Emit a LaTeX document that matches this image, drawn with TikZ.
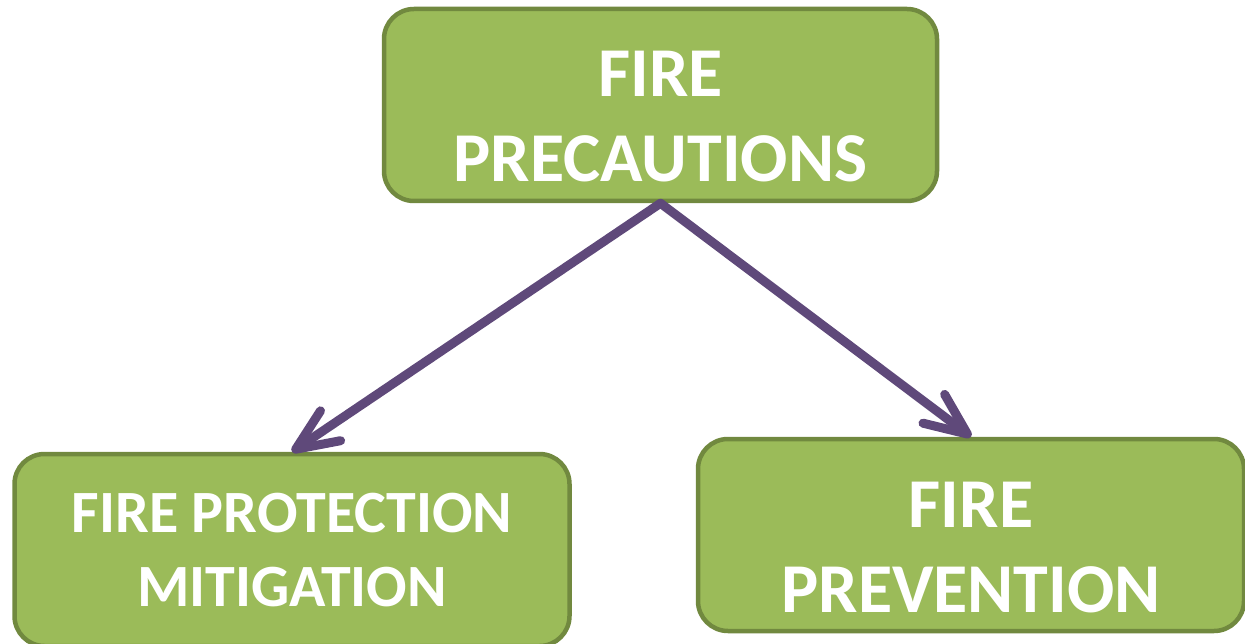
\documentclass[tikz,border=0pt]{standalone}
\usepackage{fontspec}
\setmainfont{Carlito}
\usetikzlibrary{arrows.meta}

\definecolor{boxgreen}{HTML}{9BBB59}
\definecolor{boxedge}{HTML}{71893F}
\definecolor{arrowpurple}{HTML}{5F497A}

\begin{document}
\begin{tikzpicture}[x=1pt,y=-1pt,
    box/.style={draw=boxedge, line width=4.5pt, fill=boxgreen, rounded corners=30pt,
        text=white, align=center, inner sep=0pt, minimum height=192pt},
    bigbox/.style={box, font=\bfseries\fontsize{70}{85}\selectfont,
        text height=154pt, text depth=0pt},
    smallbox/.style={box, font=\bfseries\fontsize{60}{74}\selectfont},
    link/.style={draw=arrowpurple, line width=9pt, line cap=round,
        -{Straight Barb[length=42pt,width=36pt,round]}}]
    \useasboundingbox (0,0) rectangle (1245,644);
    % boxes
    \node[bigbox, minimum width=553pt] (precautions) at (660.5,105) {FIRE\\PRECAUTIONS};
    \node[smallbox, minimum width=555pt] (protection) at (292,550) {FIRE PROTECTION\\MITIGATION};
    \node[bigbox, minimum width=546pt] (prevention) at (971,535) {FIRE\\PREVENTION};
    % arrows
    \draw[link] (precautions.south) -- (protection.north);
    \draw[link] (precautions.south) -- (prevention.north);
\end{tikzpicture}
\end{document}
